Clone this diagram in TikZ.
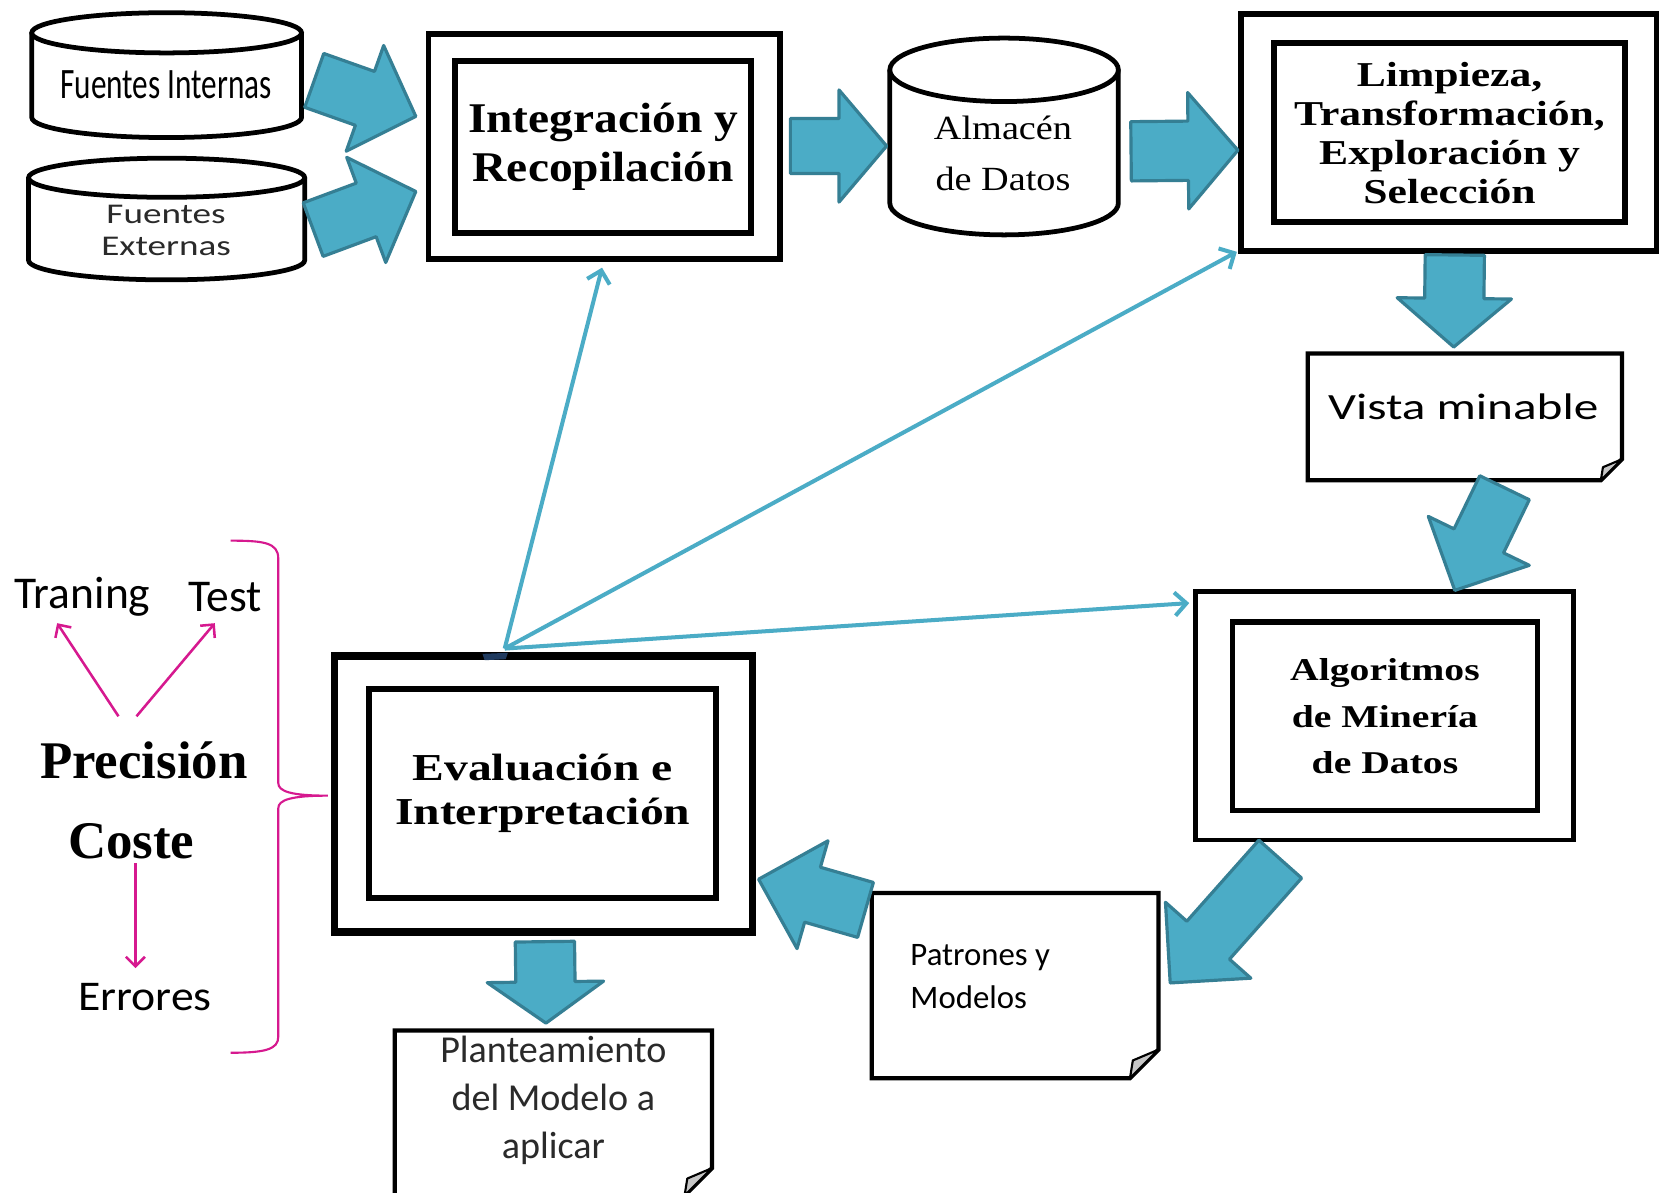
\documentclass[tikz,border=0pt]{standalone}
\usepackage{fontspec}
\usetikzlibrary{calc,arrows.meta}
\setmainfont{Liberation Serif}
\newfontfamily\ftIntegr[FakeStretch=1.12]{Liberation Serif}
\newfontfamily\ftStage[FakeStretch=1.25]{Liberation Serif}
\newfontfamily\ftStore[FakeStretch=1.13]{Liberation Serif}
\newfontfamily\ftNarrow[FakeStretch=0.72]{Carlito}
\newfontfamily\ftWide[FakeStretch=1.3]{Carlito}
\newfontfamily\ftView[FakeStretch=1.33]{Carlito}
\newfontfamily\ftCal{Carlito}
\newfontfamily\ftCalW[FakeStretch=1.08]{Carlito}

\definecolor{tealfill}{HTML}{4BACC6}
\definecolor{tealedge}{HTML}{357F94}
\definecolor{tealline}{HTML}{4BACC6}
\definecolor{magentaC}{HTML}{D6198F}
\definecolor{textgray}{HTML}{2A2A2A}
\definecolor{navy}{HTML}{1F3A5F}

\tikzset{
  outerbox/.style={draw=black, line width=5.5pt, fill=white, inner sep=0pt},
  innerbox/.style={draw=black, line width=5.5pt, fill=white, inner sep=0pt, align=center},
  drumline/.style={draw=black, line width=4.5pt},
  noteline/.style={draw=black, line width=4pt, line join=miter},
  foldline/.style={draw=black, line width=2pt, fill=gray!45, line join=round},
  blockarrow/.style={fill=tealfill, draw=tealedge, line width=3pt, line join=round},
  thinarrow/.style={draw=tealline, line width=3.8pt, -{Straight Barb[length=11pt,width=22pt]}},
  magarrow/.style={draw=magentaC, line width=2.4pt, -{Straight Barb[length=9pt,width=18pt]}},
}

% database drum: centre x, top ellipse y, bottom ellipse y, x radius, y radius
\newcommand\drum[5]{%
  \draw[drumline, fill=white] ({#1-#4},#2) -- ({#1-#4},#3)
    arc[start angle=180, end angle=360, x radius=#4pt, y radius=#5pt] -- ({#1+#4},#2);
  \draw[drumline, fill=white] (#1,#2) ellipse[x radius=#4pt, y radius=#5pt];}

% sheet with a folded lower right corner: x1, y1, x2, y2, fold size
\newcommand\sheet[5]{%
  \draw[noteline, fill=white] (#1,#2) -- (#3,#2) -- (#3,{#4-#5}) -- ({#3-#5},#4) -- (#1,#4) -- cycle;
  \draw[foldline] (#3,{#4-#5}) -- ({#3-0.9*#5},{#4-0.62*#5}) -- ({#3-#5},#4) -- cycle;}

% wide block arrow: tail, tip, shaft half width, head half width, head length
\newcommand\blk[5]{%
  \coordinate (blk-c) at ($(#2)!#5pt!(#1)$);
  \draw[blockarrow] ($(#1)!#3pt!90:(#2)$) -- ($(blk-c)!#3pt!90:(#2)$)
    -- ($(blk-c)!#4pt!90:(#2)$) -- (#2) -- ($(blk-c)!#4pt!-90:(#2)$)
    -- ($(blk-c)!#3pt!-90:(#2)$) -- ($(#1)!#3pt!-90:(#2)$) -- cycle;}

\begin{document}
\begin{tikzpicture}[x=1pt,y=-1pt]
\clip (0,0) rectangle (1568,1127);
\fill[white] (0,0) rectangle (1568,1127);

% ---- sources and data store
\drum{157.5}{31}{111}{127.5}{19}
\node[font=\ftNarrow\fontsize{41}{44}\selectfont] (fint) at (157,80) {Fuentes Internas};
\drum{157.5}{168}{246}{130.5}{18.5}
\node[font=\ftWide\fontsize{27}{30}\selectfont, align=center, text=textgray] (fext) at (157,218) {Fuentes\\Externas};
\drum{949}{66}{192}{108}{30}
\node[font=\ftStore\fontsize{32}{48}\selectfont, align=center] (alm) at (948,145) {Almacén\\de Datos};

% ---- process stages
\node[outerbox, minimum width=332pt, minimum height=213pt] (integ) at (571,138.5) {};
\node[innerbox, minimum width=280pt, minimum height=162pt,
      font=\ftIntegr\bfseries\fontsize{40}{46}\selectfont] (integ-in) at (570,139) {Integración y\\Recopilación};

\node[outerbox, minimum width=393pt, minimum height=224pt] (limp) at (1369.5,125) {};
\node[innerbox, minimum width=332pt, minimum height=169pt,
      font=\ftStage\bfseries\fontsize{33}{37}\selectfont] (limp-in) at (1370,125.5) {Limpieza,\\Transformación,\\Exploración y\\Selección};

\node[outerbox, line width=4.5pt, minimum width=357pt, minimum height=235pt] (algo) at (1308.5,676.5) {};
\node[innerbox, line width=5pt, minimum width=288pt, minimum height=178pt,
      font=\ftStage\bfseries\fontsize{30}{44}\selectfont] (algo-in) at (1309,677) {Algoritmos\\de Minería\\de Datos};

\node[outerbox, line width=7pt, minimum width=395pt, minimum height=261pt] (eval) at (513.5,750.5) {};
\node[innerbox, line width=6pt, minimum width=328pt, minimum height=198pt,
      font=\ftStage\bfseries\fontsize{36}{42}\selectfont] (eval-in) at (513,750) {Evaluación e\\Interpretación};
\fill[navy] (456,618) -- (480,617) -- (478,623) -- (458,624) -- cycle;

% ---- sheets
\sheet{1236}{334}{1533}{454}{20}
\node[font=\ftView\fontsize{35}{40}\selectfont] (vista) at (1383,384) {Vista minable};
\sheet{824}{844}{1095}{1019}{27}
\node[anchor=west, align=left, font=\ftCal\fontsize{31}{41}\selectfont] (patr) at (857,923) {Patrones y\\Modelos};
\sheet{373}{974}{673}{1130}{26}
\node[font=\ftCal\fontsize{36}{45}\selectfont, align=center, text=textgray] (plan) at (523,1040) {Planteamiento\\del Modelo a\\aplicar};

% ---- block arrows between stages
\coordinate (fint-out) at (297,76);   \coordinate (integ-a) at (393,110);
\coordinate (fext-out) at (296,217);  \coordinate (integ-b) at (393,181);
\coordinate (integ-out) at (747,138); \coordinate (alm-in) at (838,138);
\coordinate (alm-out) at (1069,143);  \coordinate (limp-a) at (1170,142);
\coordinate (limp-out) at (1375,241); \coordinate (vista-in) at (1374,328);
\coordinate (vista-out) at (1422,461);\coordinate (algo-a) at (1375,558);
\coordinate (algo-out) at (1210,812); \coordinate (patr-in) at (1106,929);
\coordinate (patr-out) at (818,860);  \coordinate (eval-a) at (717,831);
\coordinate (eval-out) at (515,890);  \coordinate (plan-in) at (516,967);
\blk{fint-out}{integ-a}{27}{53}{51}
\blk{fext-out}{integ-b}{27}{53}{50}
\blk{integ-out}{alm-in}{26}{53}{45}
\blk{alm-out}{limp-a}{28}{55}{47}
\blk{limp-out}{vista-in}{28}{54}{46}
\blk{vista-out}{algo-a}{26}{53}{52}
\blk{algo-out}{patr-in}{27}{54}{54}
\blk{patr-out}{eval-a}{27}{53}{53}
\blk{eval-out}{plan-in}{28}{55}{39}

% ---- feedback arrows from the evaluation stage
\coordinate (eval-src) at (477,613);
\coordinate (integ-s) at (569,253);
\coordinate (limp-sw) at (1169,238);
\coordinate (algo-w) at (1124,570);
\draw[thinarrow] (eval-src) -- (integ-s);
\draw[thinarrow] (eval-src) -- (limp-sw);
\draw[thinarrow] (eval-src) -- (algo-w);

% ---- evaluation criteria
\node[font=\ftCal\fontsize{43}{50}\selectfont] (tran) at (78,564) {Traning};
\node[font=\ftCal\fontsize{43}{50}\selectfont] (test) at (213,564) {Test};
\node[font=\bfseries\fontsize{50}{55}\selectfont] (prec) at (136,719) {Precisión};
\node[font=\bfseries\fontsize{50}{55}\selectfont] (coste) at (124,795) {Coste};
\node[font=\ftCalW\fontsize{40}{46}\selectfont] (err) at (137,942) {Errores};
\coordinate (prec-l) at (112,677);  \coordinate (tran-in) at (54,589);
\coordinate (prec-r) at (129,677);  \coordinate (test-in) at (203,589);
\coordinate (coste-s) at (128,816); \coordinate (err-in) at (128,915);
\draw[magarrow] (prec-l) -- (tran-in);
\draw[magarrow] (prec-r) -- (test-in);
\draw[magarrow] (coste-s) -- (err-in);

% brace grouping the criteria
\draw[magentaC, line width=2pt] (218,511) .. controls (250,511) and (263,513) .. (263,528)
  -- (263,740) .. controls (263,748) and (275,752) .. (310,752)
  .. controls (275,752) and (263,756) .. (263,764)
  -- (263,980) .. controls (263,992) and (250,995) .. (218,995);
\end{tikzpicture}
\end{document}
